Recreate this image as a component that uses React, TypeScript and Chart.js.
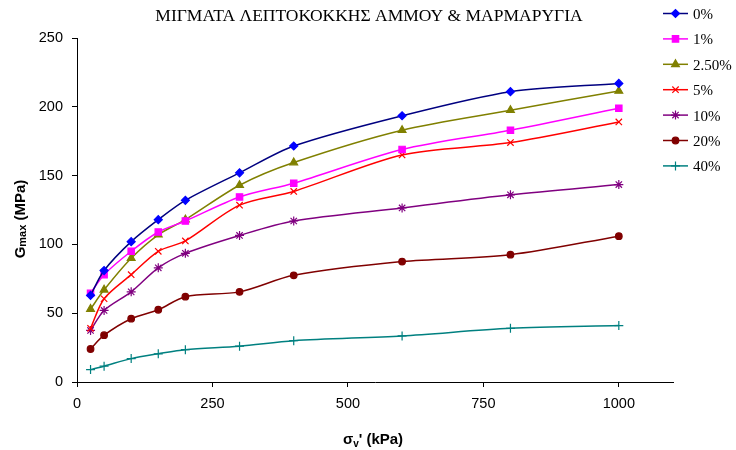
import React, { useEffect, useRef } from 'react';
import { Chart, registerables } from 'chart.js';
import { drawPoint } from 'chart.js/helpers';

Chart.register(...registerables);

const TITLE = 'ΜΙΓΜΑΤΑ ΛΕΠΤΟΚΟΚΚΗΣ ΑΜΜΟΥ & ΜΑΡΜΑΡΥΓΙΑ';
const stressKPa = [25, 50, 100, 150, 200, 300, 400, 600, 800, 1000];
const g0 = [63, 81, 102, 118, 132, 152, 171.5, 193.5, 211, 217];
const g1 = [64.5, 78, 95, 109, 117, 134.5, 144.5, 169, 183, 199];
const g2_5 = [53, 67, 90, 107, 118, 143, 159.5, 183, 197.5, 211.5];
const g5 = [39, 60.5, 78, 95, 102.5, 128.5, 138.5, 165, 174, 189];
const g10 = [37.5, 52, 65.5, 83, 93.5, 106.5, 117, 126.5, 136, 143.5];
const g20 = [24, 34, 46, 52.5, 62, 65.5, 77.5, 87.5, 92.5, 106];
const g40 = [9, 11.5, 17, 20.5, 23.5, 26, 30, 33.5, 39, 41];
const seriesLabels = ['0%', '1%', '2.50%', '5%', '10%', '20%', '40%'];
const seriesValues = [g0, g1, g2_5, g5, g10, g20, g40];
const xTickValues = [0, 250, 500, 750, 1000];

const styles = [
  { line: '#000080', mark: '#0000FF', pointStyle: 'rectRot', radius: 4 },
  { line: '#FF00FF', mark: '#FF00FF', pointStyle: 'rect', radius: 4.5 },
  { line: '#808000', mark: '#808000', pointStyle: 'triangle', radius: 4.5 },
  { line: '#FF0000', mark: '#FF0000', pointStyle: 'crossRot', radius: 4.5 },
  { line: '#800080', mark: '#800080', pointStyle: 'star', radius: 4.5 },
  { line: '#800000', mark: '#800000', pointStyle: 'circle', radius: 3.3 },
  { line: '#008080', mark: '#008080', pointStyle: 'cross', radius: 4.5 },
];

const SANS = '"Liberation Sans", Arial, sans-serif';
const SERIF = '"Liberation Serif", "Times New Roman", serif';

const decorPlugin = {
  id: 'decor',
  afterDraw(chart: any) {
    const ctx = chart.ctx as CanvasRenderingContext2D;
    ctx.save();
    // Title
    ctx.fillStyle = '#000';
    ctx.font = `17.5px ${SERIF}`;
    ctx.textAlign = 'center';
    ctx.textBaseline = 'alphabetic';
    ctx.fillText(TITLE, 369, 21);

    // Legend
    const lx0 = 663;
    const lx1 = 688;
    const ly0 = 13.5;
    const step = 25.4;
    ctx.textAlign = 'left';
    ctx.font = `15px ${SERIF}`;
    chart.data.datasets.forEach((ds: any, i: number) => {
      const y = ly0 + i * step;
      const st = styles[i];
      ctx.strokeStyle = st.line;
      ctx.lineWidth = 1.5;
      ctx.beginPath();
      ctx.moveTo(lx0, y);
      ctx.lineTo(lx1, y);
      ctx.stroke();
      ctx.fillStyle = st.mark;
      ctx.strokeStyle = st.mark;
      ctx.lineWidth = 1.2;
      drawPoint(ctx, { pointStyle: st.pointStyle, radius: st.radius, rotation: 0, borderWidth: 1.2 } as any, (lx0 + lx1) / 2, y);
      ctx.fillStyle = '#000';
      ctx.fillText(ds.label, 693, y + 5.5);
    });

    // X axis title: σv' (kPa)
    const parts = [
      { t: 'σ', f: `bold 15px ${SANS}`, dy: 0 },
      { t: 'v', f: `bold 10px ${SANS}`, dy: 3 },
      { t: "' (kPa)", f: `bold 15px ${SANS}`, dy: 0 },
    ];
    let total = 0;
    parts.forEach((p) => {
      ctx.font = p.f;
      total += ctx.measureText(p.t).width;
    });
    let x = 373 - total / 2;
    const by = 443.5;
    ctx.textAlign = 'left';
    parts.forEach((p) => {
      ctx.font = p.f;
      ctx.fillText(p.t, x, by + p.dy);
      x += ctx.measureText(p.t).width;
    });

    // Y axis title: Gmax (MPa)
    const yparts = [
      { t: 'G', f: `bold 15px ${SANS}`, dy: 0 },
      { t: 'max', f: `bold 11px ${SANS}`, dy: 1.5 },
      { t: ' (MPa)', f: `bold 15px ${SANS}`, dy: 0 },
    ];
    total = 0;
    yparts.forEach((p) => {
      ctx.font = p.f;
      total += ctx.measureText(p.t).width;
    });
    ctx.translate(24.5, 219);
    ctx.rotate(-Math.PI / 2);
    x = -total / 2;
    yparts.forEach((p) => {
      ctx.font = p.f;
      ctx.fillText(p.t, x, p.dy);
      x += ctx.measureText(p.t).width;
    });
    ctx.restore();
  },
};

export default function App() {
  const ref = useRef<HTMLCanvasElement | null>(null);
  useEffect(() => {
    if (!ref.current) return;
    const datasets = seriesValues.map((vals, i) => ({
      label: seriesLabels[i],
      data: stressKPa.map((x, j) => ({ x, y: vals[j] })),
      borderColor: styles[i].line,
      backgroundColor: styles[i].mark,
      pointBackgroundColor: styles[i].mark,
      pointBorderColor: styles[i].mark,
      pointStyle: styles[i].pointStyle,
      pointRadius: styles[i].radius,
      pointBorderWidth: 1.2,
      borderWidth: 1.5,
      tension: 0.3,
      fill: false,
    }));
    const chart = new Chart(ref.current, {
      type: 'line',
      data: { datasets },
      plugins: [decorPlugin],
      options: {
        animation: false,
        responsive: false,
        maintainAspectRatio: false,
        layout: { padding: { top: 38, right: 63, left: 0, bottom: 0 } },
        plugins: {
          legend: { display: false },
          title: { display: false },
          tooltip: { enabled: false },
        },
        scales: {
          x: {
            type: 'linear',
            min: 0,
            max: 1100,
            afterFit: (s: any) => {
              s.height = 68;
            },
            afterBuildTicks: (s: any) => {
              s.ticks = xTickValues.map((v) => ({ value: v }));
            },
            grid: {
              display: true,
              drawOnChartArea: false,
              drawTicks: true,
              tickLength: 5,
              color: '#000',
            },
            border: { display: true, color: '#000', width: 1 },
            ticks: {
              color: '#000',
              font: { family: SANS, size: 14.5 },
              padding: 8,
              maxRotation: 0,
              callback: (v: any) => String(v),
            },
          },
          y: {
            type: 'linear',
            min: 0,
            max: 250,
            afterFit: (s: any) => {
              s.width = 77;
            },
            grid: {
              display: true,
              drawOnChartArea: false,
              drawTicks: true,
              tickLength: 5,
              color: '#000',
            },
            border: { display: true, color: '#000', width: 1 },
            ticks: {
              stepSize: 50,
              color: '#000',
              font: { family: SANS, size: 14.5 },
              padding: 9,
              callback: (v: any) => String(v),
            },
          },
        },
      } as any,
    });
    return () => chart.destroy();
  }, []);
  return (
    <div style={{ position: 'fixed', left: 0, top: 0, width: 736, height: 450, background: '#fff' }}>
      <canvas ref={ref} width={736} height={450} style={{ width: 736, height: 450 }} />
    </div>
  );
}
